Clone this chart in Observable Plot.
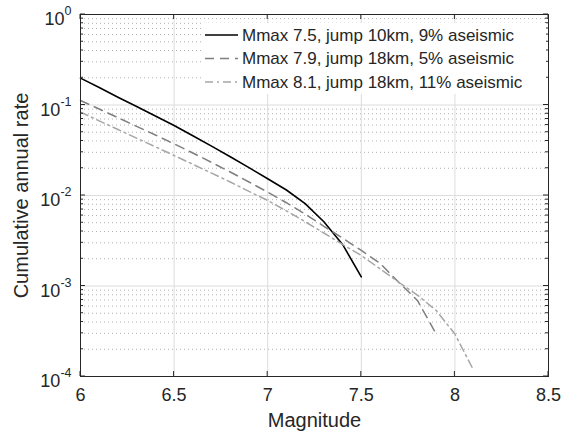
<!DOCTYPE html>
<html><head><meta charset="utf-8">
<script src="https://cdn.jsdelivr.net/npm/d3@7"></script>
<script src="https://cdn.jsdelivr.net/npm/@observablehq/plot@0.6"></script>
<style>
html,body{margin:0;padding:0;background:#fff;}
#chart{width:562px;height:432px;}
</style></head><body><div id="chart"></div>
<script>
// ---- data ----
const seriesNames = [
  "Mmax 7.5, jump 10km, 9% aseismic",
  "Mmax 7.9, jump 18km, 5% aseismic",
  "Mmax 8.1, jump 18km, 11% aseismic"
];
const mag75 = [6.0,6.1,6.2,6.3,6.4,6.5,6.6,6.7,6.8,6.9,7.0,7.1,7.2,7.3,7.4,7.5];
const rate75 = [0.198,0.156,0.122,0.0962,0.0755,0.0593,0.0457,0.0351,0.0268,0.0203,0.0153,0.0115,0.00813,0.00513,0.00288,0.00126];
const mag79 = [6.0,6.1,6.2,6.3,6.4,6.5,6.6,6.7,6.8,6.9,7.0,7.1,7.2,7.3,7.4,7.5,7.6,7.7,7.8,7.9];
const rate79 = [0.112,0.0902,0.0724,0.0581,0.0466,0.0372,0.0295,0.0232,0.0182,0.0141,0.0109,0.00832,0.00624,0.00457,0.00339,0.00247,0.00178,0.00110,0.000692,0.000295];
const mag81 = [6.0,6.1,6.2,6.3,6.4,6.5,6.6,6.7,6.8,6.9,7.0,7.1,7.2,7.3,7.4,7.5,7.6,7.7,7.8,7.9,8.0,8.1];
const rate81 = [0.0834,0.0668,0.0536,0.0430,0.0345,0.0277,0.0221,0.0177,0.0141,0.0111,0.00881,0.00676,0.00513,0.00385,0.00288,0.00217,0.00155,0.00110,0.000794,0.000537,0.000295,0.000117];
const xTicks = [6, 6.5, 7, 7.5, 8, 8.5];
const yTicks = [1e-4, 1e-3, 1e-2, 1e-1, 1];
const xLabel = "Magnitude";
const yLabel = "Cumulative annual rate";

// ---- styles ----
const FONT = "'Liberation Sans', Arial, Helvetica, sans-serif";
const INK = "#262626";
const styles = [
  {stroke: "#000000", dash: null, width: 1.6},
  {stroke: "#7f7f7f", dash: "9,6", width: 1.5},
  {stroke: "#a6a6a6", dash: "8,4,2,4", width: 1.5}
];

const mags = [mag75, mag79, mag81];
const rates = [rate75, rate79, rate81];
const tables = mags.map((ms, i) => ms.map((m, j) => ({m, rate: rates[i][j], series: seriesNames[i]})));
const yMinor = [];
yTicks.slice(0, -1).forEach(d => { for (let k = 2; k <= 9; k++) yMinor.push(k * d); });

const chart = Plot.plot({
  width: 562, height: 432,
  marginLeft: 80, marginRight: 14, marginTop: 14, marginBottom: 56,
  style: {fontFamily: FONT, background: "#fff", color: INK},
  x: {domain: [6, 8.5]},
  y: {type: "log", domain: [1e-4, 1]},
  marks: [
    Plot.gridY(yMinor, {stroke: "#b0b0b0", strokeOpacity: 1, strokeDasharray: "1,3"}),
    Plot.gridY(yTicks.slice(1, -1), {stroke: "#dcdcdc", strokeOpacity: 1, strokeWidth: 1}),
    Plot.gridX(xTicks.slice(1, -1), {stroke: "#dcdcdc", strokeOpacity: 1, strokeWidth: 1}),
    ...tables.map((t, i) => Plot.line(t, {x: "m", y: "rate", stroke: styles[i].stroke, strokeWidth: styles[i].width, strokeDasharray: styles[i].dash})),
    Plot.axisX(xTicks, {anchor: "bottom", tickSize: 0, tickPadding: 12, tickFormat: d => String(d), fontSize: 18, fill: INK, label: null}),
    Plot.axisY(yTicks, {anchor: "left", tickSize: 0, tickPadding: 9, tickFormat: d => "10^" + Math.round(Math.log10(d)), fontSize: 18, fill: INK, label: null}),
    Plot.frame({stroke: INK, strokeWidth: 1}),
    Plot.text([xLabel], {text: d => d, frameAnchor: "bottom", textAnchor: "middle", lineAnchor: "middle", dy: 44, fontSize: 20, fill: INK}),
    Plot.text([yLabel], {text: d => d, frameAnchor: "left", textAnchor: "middle", lineAnchor: "middle", dx: -59, rotate: -90, fontSize: 20, fill: INK})
  ]
});
document.getElementById("chart").append(chart);

const svg = d3.select(chart);
const sx = chart.scale("x"), sy = chart.scale("y");

// superscript exponents for y tick labels
svg.selectAll('g[aria-label="y-axis tick label"]').each(function() {
  const g = d3.select(this);
  g.attr("transform", (g.attr("transform") || "") + " translate(0,5)");
  g.selectAll("text").each(function() {
    const t = d3.select(this);
    const e = t.text().split("^")[1];
    t.text(null);
    t.append("tspan").text("10");
    t.append("tspan").attr("dy", "-10px").attr("font-size", "12.5px").text(e);
  });
});

// inward ticks (MATLAB style)
const tg = svg.append("g").attr("stroke", INK).attr("stroke-width", 1);
const yB = sy.apply(1e-4), yT = sy.apply(1), xL = sx.apply(6), xR = sx.apply(8.5);
xTicks.forEach(v => {
  const x = sx.apply(v);
  tg.append("line").attr("x1", x).attr("x2", x).attr("y1", yB).attr("y2", yB - 5);
  tg.append("line").attr("x1", x).attr("x2", x).attr("y1", yT).attr("y2", yT + 5);
});
yTicks.forEach(v => {
  const y = sy.apply(v);
  tg.append("line").attr("x1", xL).attr("x2", xL + 5).attr("y1", y).attr("y2", y);
  tg.append("line").attr("x1", xR).attr("x2", xR - 5).attr("y1", y).attr("y2", y);
});
yMinor.forEach(v => {
  const y = sy.apply(v);
  tg.append("line").attr("x1", xL).attr("x2", xL + 3).attr("y1", y).attr("y2", y);
  tg.append("line").attr("x1", xR).attr("x2", xR - 3).attr("y1", y).attr("y2", y);
});

// legend
const leg = svg.append("g").attr("font-family", FONT).attr("font-size", 17).attr("fill", INK).attr("text-anchor", "start");
leg.append("rect").attr("x", 202).attr("y", 23).attr("width", 344).attr("height", 71).attr("fill", "#fff");
seriesNames.forEach((name, i) => {
  const y = 35 + i * 23.5;
  leg.append("line").attr("x1", 205).attr("x2", 238).attr("y1", y).attr("y2", y)
    .attr("stroke", styles[i].stroke).attr("stroke-width", styles[i].width)
    .attr("stroke-dasharray", styles[i].dash);
  leg.append("text").attr("x", 242).attr("y", y).attr("dy", "0.35em").attr("text-anchor", "start").text(name);
});
</script>
</body></html>
